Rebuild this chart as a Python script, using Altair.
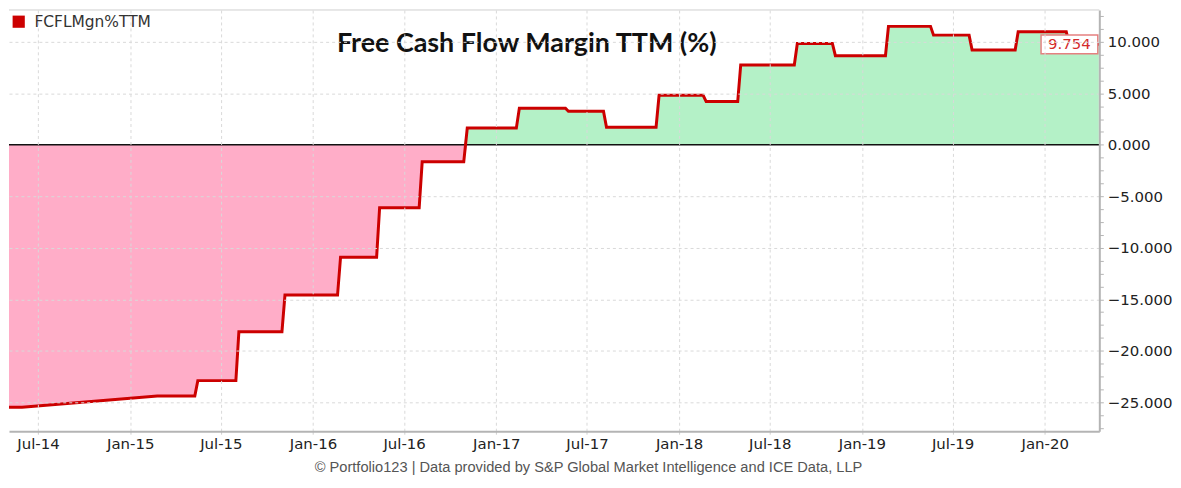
import altair as alt
import pandas as pd

# ---------------------------------------------------------------------------
# Data (step series drawn as vertices, weekly points)
# ---------------------------------------------------------------------------
dates = [
    "2014-04-10", "2014-05-30", "2015-02-24", "2015-05-10", "2015-05-16",
    "2015-07-31", "2015-08-06", "2015-10-31", "2015-11-06", "2016-02-19",
    "2016-02-25", "2016-05-07", "2016-05-13", "2016-07-31", "2016-08-06",
    "2016-10-28", "2016-11-04", "2017-02-10", "2017-02-16", "2017-05-19",
    "2017-05-25", "2017-08-03", "2017-08-09", "2017-11-16", "2017-11-22",
    "2018-02-18", "2018-02-24", "2018-04-28", "2018-05-04", "2018-08-19",
    "2018-08-25", "2018-11-03", "2018-11-09", "2019-02-17", "2019-02-23",
    "2019-05-18", "2019-05-24", "2019-08-03", "2019-08-09", "2019-11-03",
    "2019-11-09", "2020-02-13", "2020-02-19", "2020-04-18",
]
values = [
    -25.48, -25.48, -24.4, -24.4, -22.9,
    -22.9, -18.16, -18.16, -14.59, -14.59,
    -10.92, -10.92, -6.11, -6.11, -1.65,
    -1.65, 1.62, 1.62, 3.55, 3.55,
    3.26, 3.26, 1.71, 1.71, 4.8,
    4.8, 4.2, 4.2, 7.75, 7.75,
    9.84, 9.84, 8.65, 8.65, 11.5,
    11.5, 10.65, 10.65, 9.2, 9.2,
    10.97, 10.97, 9.754, 9.754,
]
series_name = "FCFLMgn%TTM"
last_label = "9.754"
title_text = "Free Cash Flow Margin TTM (%)"
footer_text = "© Portfolio123 | Data provided by S&P Global Market Intelligence and ICE Data, LLP"
tick_months = [(y, m) for y in range(2014, 2021) for m in (1, 7)
               if (2014, 7) <= (y, m) <= (2020, 1)]

df = pd.DataFrame({"date": dates, "value": values})
last = pd.DataFrame({"date": [dates[-1]], "value": [values[-1]], "label": [last_label]})
legend_df = pd.DataFrame({"date": ["2013-01-01"], "value": [0.0], "series": [series_name]})

W, H = 1095, 423
RED = "#CC0000"

x_scale = alt.Scale(
    type="utc",
    domain=[alt.DateTime(year=2014, month=5, date=4, utc=True),
            alt.DateTime(year=2020, month=4, date=19, utc=True)],
)
y_scale = alt.Scale(domain=[-27.81, 13.09], nice=False, zero=False)

x_axis = alt.Axis(
    title=None,
    values=[alt.DateTime(year=y, month=m, date=1, utc=True) for y, m in tick_months],
    labelExpr="utcFormat(datum.value, '%b-%y')",
    grid=True, gridColor="#d9d9d9", gridDash=[3, 3], gridWidth=1,
    domainColor="#b4b4b4", domainWidth=2,
    tickColor="#cfcfcf", tickSize=3,
    labelFont="DejaVu Sans", labelFontSize=15, labelColor="#222",
    labelPadding=2, zindex=1,
)
y_axis = alt.Axis(
    title=None, orient="right",
    values=[i * 1.25 for i in range(-22, 11)],
    labelExpr="abs(datum.value % 5) < 0.001 ? format(datum.value, '.3f') : ''",
    grid=True, gridColor="#d9d9d9", gridDash=[3, 3], gridWidth=1,
    gridOpacity={"condition": {"test": "abs(datum.value % 5) < 0.001 && datum.value != 0",
                               "value": 1}, "value": 0},
    domainColor="#b4b4b4", domainWidth=2,
    tickColor="#b4b4b4", tickSize=4,
    labelFont="DejaVu Sans", labelFontSize=15, labelColor="#222",
    labelPadding=4, zindex=1,
)


def xe(field="date:T"):
    return alt.X(field, scale=x_scale, axis=x_axis)


def ye(field="value:Q"):
    return alt.Y(field, scale=y_scale, axis=y_axis)


base = alt.Chart(df).transform_calculate(
    pos="max(datum.value, 0)", neg="min(datum.value, 0)"
)

neg_area = base.mark_area(color="#FFADC8", clip=True).encode(
    x=xe(), y=ye("neg:Q"), y2=alt.datum(0)
)
pos_area = base.mark_area(color="#B4F1C7", clip=True).encode(
    x=xe(), y=ye("pos:Q"), y2=alt.datum(0)
)
zero_line = alt.Chart(pd.DataFrame({"z": [0.0]})).mark_rule(
    color="#111", strokeWidth=1.5
).encode(y=ye("z:Q"))

line = alt.Chart(df).mark_line(color=RED, strokeWidth=3, clip=True).encode(
    x=xe(), y=ye()
)

legend_layer = alt.Chart(legend_df).mark_square(clip=True, filled=True).encode(
    x=xe(),
    y=ye(),
    color=alt.Color(
        "series:N",
        scale=alt.Scale(range=[RED]),
        legend=alt.Legend(
            title=None, orient="none", legendX=2, legendY=4,
            symbolType="square", symbolSize=150, symbolOpacity=1,
            symbolStrokeWidth=0,
            labelFont="DejaVu Sans", labelFontSize=15.5, labelColor="#333",
            labelOffset=8, padding=0,
        ),
    ),
)

box = alt.Chart(last).mark_rect(
    width=57, height=19, xOffset=-29.5, fill="white", stroke="#E58080", strokeWidth=1.5
).encode(x=xe(), y=ye())
box_text = alt.Chart(last).mark_text(
    xOffset=-29.5, font="DejaVu Sans", fontSize=15, color="#D42A2A",
    align="center", baseline="middle",
).encode(x=xe(), y=ye(), text="label:N")

top_border = alt.Chart(pd.DataFrame({"a": [0]})).mark_rule(
    color="#cfcfcf", strokeWidth=1
).encode(x=alt.value(0), x2=alt.value(W), y=alt.value(0))

title_mark = alt.Chart(pd.DataFrame({"t": [title_text]})).mark_text(
    font="Lato", fontSize=27, fontWeight="bold", color="#111",
    align="center", baseline="middle",
).encode(x=alt.value(520), y=alt.value(34), text="t:N")

chart = (
    alt.layer(neg_area, pos_area, zero_line, line, legend_layer, box, box_text,
              top_border, title_mark)
    .properties(
        width=W, height=H,
        padding={"left": 0, "top": 0, "right": 0, "bottom": 0},
        background="white",
        title=alt.TitleParams(
            footer_text, orient="bottom", anchor="middle",
            font="Liberation Sans", fontSize=14.7, fontWeight="normal",
            color="#555", offset=9, dx=34.5,
        ),
    )
    .configure_view(stroke=None)
)

chart.save("out.html", embed_options={"renderer": "svg", "actions": False})
